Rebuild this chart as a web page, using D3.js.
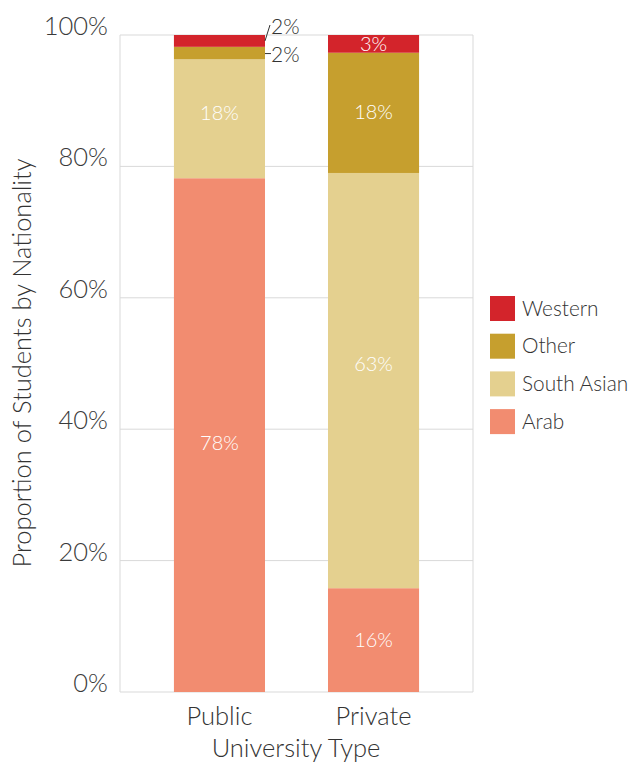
<!DOCTYPE html>
<html><head><meta charset="utf-8">
<script src="https://cdn.jsdelivr.net/npm/d3@7"></script>
<style>
body{margin:0;background:#fff;}
text{font-family:Lato,"Open Sans",sans-serif;font-weight:300;}
</style></head>
<body><svg id="c" width="630" height="763"></svg>
<script>
const categories = ["Public", "Private"];
const seriesNames = ["Arab", "South Asian", "Other", "Western"];
const arabValues = [78.2, 15.8];
const southAsianValues = [18.1, 63.2];
const otherValues = [1.9, 18.3];
const westernValues = [1.8, 2.7];
const yTicks = [0, 20, 40, 60, 80, 100];
const colors = {"Arab":"#f28c70","South Asian":"#e4d08f","Other":"#c69f2e","Western":"#d3242b"};

const rows = categories.map((c,i)=>({cat:c,"Arab":arabValues[i],"South Asian":southAsianValues[i],"Other":otherValues[i],"Western":westernValues[i]}));
const stack = d3.stack().keys(seriesNames)(rows);

const svg = d3.select("#c");
const L=120,R=473,T=35,B=692;
const x = d3.scaleBand().domain(categories).range([L,R]).paddingInner(0.409).paddingOuter(0.35);
const y = d3.scaleLinear().domain([0,100]).range([B,T]);

// label nudges (pixels) to match original manual label placement
const labelNudge = {"Public|Arab":8,"Public|South Asian":-6,"Private|South Asian":-17,"Private|Other":-1};

// grid
svg.append("g").selectAll("line").data(yTicks).join("line")
  .attr("x1",L).attr("x2",R).attr("y1",d=>y(d)).attr("y2",d=>y(d))
  .attr("stroke","#d9d9d9").attr("stroke-width",1);
svg.append("line").attr("x1",L).attr("x2",L).attr("y1",T).attr("y2",B).attr("stroke","#d9d9d9");
svg.append("line").attr("x1",R).attr("x2",R).attr("y1",T).attr("y2",B).attr("stroke","#d9d9d9");

// y tick labels
svg.append("g").selectAll("text").data(yTicks).join("text")
  .attr("x",108).attr("y",d=>y(d)-9).attr("dy","0.35em").attr("text-anchor","end")
  .attr("font-size",25.5).attr("fill","#3a3a3a").text(d=>d+"%");

// bars
const g = svg.append("g");
stack.forEach(s=>{
  g.append("g").selectAll("rect").data(s).join("rect")
    .attr("x",d=>x(d.data.cat)).attr("width",x.bandwidth())
    .attr("y",d=>y(d[1])).attr("height",d=>y(d[0])-y(d[1]))
    .attr("fill",colors[s.key]);
});

// labels inside bars
stack.forEach(s=>{
  s.forEach(d=>{
    const v = d[1]-d[0];
    if (v < 2.5) return;
    const nudge = labelNudge[d.data.cat+"|"+s.key]||0;
    svg.append("text").attr("x",x(d.data.cat)+x.bandwidth()/2).attr("y",(y(d[0])+y(d[1]))/2+nudge)
      .attr("dy","0.35em").attr("text-anchor","middle").attr("font-size",20).attr("fill","#fff")
      .text(Math.round(v)+"%");
  });
});

// outside labels for small public segments
const pubRight = x("Public")+x.bandwidth();
const pubOther = stack[2][0], pubWest = stack[3][0];
const wMid = (y(pubWest[0])+y(pubWest[1]))/2;
const oMid = (y(pubOther[0])+y(pubOther[1]))/2;
svg.append("line").attr("x1",pubRight).attr("y1",wMid).attr("x2",pubRight+5).attr("y2",y(100)-10)
  .attr("stroke","#333").attr("stroke-width",1);
svg.append("text").attr("x",pubRight+6).attr("y",y(100)-8).attr("dy","0.35em").attr("font-size",21).attr("fill","#333")
  .text(Math.round(pubWest[1]-pubWest[0])+"%");
svg.append("line").attr("x1",pubRight).attr("y1",oMid+0.5).attr("x2",pubRight+6).attr("y2",oMid+0.5)
  .attr("stroke","#333").attr("stroke-width",1);
svg.append("text").attr("x",pubRight+6).attr("y",oMid+2).attr("dy","0.35em").attr("font-size",21).attr("fill","#333")
  .text(Math.round(pubOther[1]-pubOther[0])+"%");

// x labels
svg.append("g").selectAll("text").data(categories).join("text")
  .attr("x",d=>x(d)+x.bandwidth()/2).attr("y",716).attr("dy","0.35em").attr("text-anchor","middle")
  .attr("font-size",25.5).attr("fill","#333").text(d=>d);
svg.append("text").attr("x",296).attr("y",748).attr("dy","0.35em").attr("text-anchor","middle")
  .attr("font-size",25.5).attr("fill","#333").text("University Type");
svg.append("text").attr("transform","translate(22,363) rotate(-90)").attr("dy","0.35em").attr("text-anchor","middle")
  .attr("font-size",25.5).attr("fill","#333").text("Proportion of Students by Nationality");

// legend
const legendOrder = ["Western","Other","South Asian","Arab"];
const lg = svg.append("g").selectAll("g").data(legendOrder).join("g")
  .attr("transform",(d,i)=>`translate(490,${296+i*37.7})`);
lg.append("rect").attr("width",25).attr("height",25).attr("fill",d=>colors[d]);
lg.append("text").attr("x",32).attr("y",12.5).attr("dy","0.35em").attr("font-size",20.8).attr("fill","#333").text(d=>d);
</script></body></html>
